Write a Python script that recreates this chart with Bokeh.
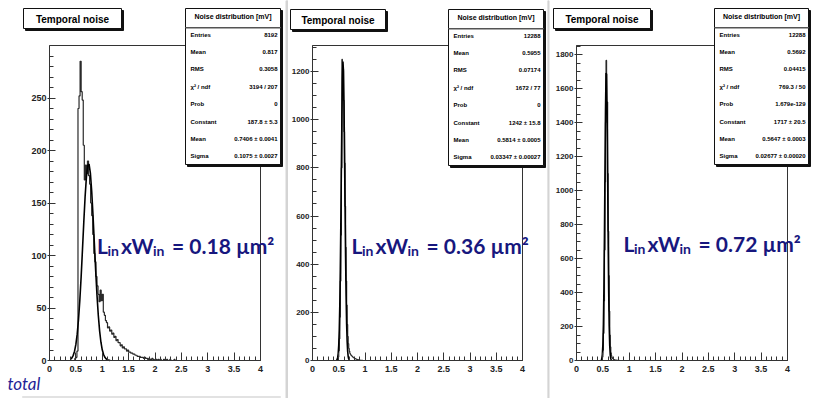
import numpy as np
from bokeh.plotting import figure
from bokeh.models import Range1d, FixedTicker, Label, BoxAnnotation
from bokeh.layouts import row
from bokeh.embed import file_html
from bokeh.resources import INLINE

# ---------------- data ----------------
x_ticks = [0, 0.5, 1, 1.5, 2, 2.5, 3, 3.5, 4]
x_tick_labels = ["0", "0.5", "1", "1.5", "2", "2.5", "3", "3.5", "4"]

panel_title = "Temporal noise"
stats_title = "Noise distribution [mV]"
stats_names = ["Entries", "Mean", "RMS", "\u03c7\u00b2 / ndf", "Prob", "Constant", "Mean", "Sigma"]
stats_values_1 = ["8192", "0.817", "0.3058", "3194 / 207", "0", "187.8 \u00b1 5.3", "0.7406 \u00b1 0.0041", "0.1075 \u00b1 0.0027"]
stats_values_2 = ["12288", "0.5955", "0.07174", "1672 / 77", "0", "1242 \u00b1 15.8", "0.5814 \u00b1 0.0005", "0.03347 \u00b1 0.00027"]
stats_values_3 = ["12288", "0.5692", "0.04415", "769.3 / 50", "1.679e-129", "1717 \u00b1 20.5", "0.5647 \u00b1 0.0003", "0.02677 \u00b1 0.00020"]
area_values = ["0.18", "0.36", "0.72"]

# panel 1 histogram (bin start, bin width, counts)
h1_start, h1_width = 0.48, 0.02
h1_counts = [2, 3, 9, 240, 252, 285, 256, 248, 205, 172, 186, 178, 190, 176, 168, 150,
             138, 120, 102, 94, 80, 71, 63, 56, 67, 57, 63, 46, 43, 38, 36, 31, 32, 28,
             29, 25, 26, 22, 23, 19, 20, 17, 17, 14, 15, 12, 13, 11, 11, 9, 10, 8, 8, 7,
             7, 6, 6, 5, 5, 4, 4, 4, 3, 3, 3, 2, 3, 2, 2, 1, 2, 1, 1, 2, 1, 0, 1, 1, 0,
             1, 0, 1, 0, 0, 1, 0, 0, 1, 0, 0, 1, 0, 0, 0, 1]
fit1_x = [0.400, 0.425, 0.450, 0.475, 0.500, 0.525, 0.550, 0.575, 0.600, 0.625, 0.650,
          0.675, 0.700, 0.725, 0.750, 0.775, 0.800, 0.825, 0.850, 0.875, 0.900, 0.925,
          0.950, 0.975, 1.000, 1.025, 1.050, 1.075, 1.100, 1.125, 1.150]
fit1_y = [1.2, 2.5, 4.9, 8.9, 15.3, 25.1, 39.0, 57.4, 79.8, 105.4, 131.7, 155.9, 174.9,
          185.8, 187.1, 178.4, 161.2, 138.0, 111.9, 86.0, 62.5, 43.1, 28.2, 17.4, 10.2,
          5.7, 3.0, 1.5, 0.7, 0.3, 0.1]
y1_max = 300
y1_ticks = [0, 50, 100, 150, 200, 250]
y1_minor = 10

# panel 2
h2_start, h2_width = 0.46, 0.01
h2_counts = [0, 2, 5, 15, 40, 90, 180, 330, 520, 800, 1250, 1170, 1210, 1080, 950, 820,
             640, 470, 330, 230, 150, 100, 70, 50, 38, 30, 26, 22, 20, 18, 15, 14, 12, 10,
             9, 8, 7, 6, 5, 4, 4, 3, 3, 2, 2, 1, 1, 1, 0, 1]
fit2_x = [0.46, 0.47, 0.48, 0.49, 0.50, 0.51, 0.52, 0.53, 0.54, 0.55, 0.56, 0.57, 0.58,
          0.59, 0.60, 0.61, 0.62, 0.63, 0.64, 0.65, 0.66, 0.67, 0.68, 0.69, 0.70]
fit2_y = [1.7, 4.9, 12.6, 29.8, 64.5, 127.7, 230.8, 381.9, 577.9, 799.9, 1012.5, 1172,
          1241, 1201.6, 1064, 861.8, 638.8, 432.7, 268.2, 151.9, 78.8, 37.4, 16.2, 6.4, 2.3]
y2_max = 1308
y2_ticks = [0, 200, 400, 600, 800, 1000, 1200]
y2_minor = 50

# panel 3
h3_start, h3_width = 0.47, 0.01
h3_counts = [0, 5, 20, 60, 160, 350, 650, 1050, 1400, 1765, 1450, 1520, 1100, 760, 500,
             290, 150, 80, 45, 28, 18, 12, 9, 7, 5, 4, 3, 2, 2, 1, 1, 1, 0, 1]
fit3_x = [0.47, 0.48, 0.49, 0.50, 0.51, 0.52, 0.53, 0.54, 0.55, 0.56, 0.57, 0.58, 0.59,
          0.60, 0.61, 0.62, 0.63, 0.64, 0.65, 0.66]
fit3_y = [3.3, 11.5, 35.0, 92.5, 212.9, 425.9, 741.3, 1121.7, 1476.6, 1690.8, 1683.7,
          1458.2, 1098.7, 719.7, 410.2, 203.2, 87.6, 32.8, 10.7, 3.0]
y3_max = 1853
y3_ticks = [0, 200, 400, 600, 800, 1000, 1200, 1400, 1600, 1800]
y3_minor = 50

# ---------------- layout (page pixels) ----------------
FIG_H = 398
FRAME_TOP, FRAME_BOT = 45, 360
layouts = [
    dict(fig_left=0, fig_w=288, fl=49, fr=260, title_box=(23, 121, 8, 28),
         stats_box=(185, 280, 8, 164), lab_x=190, val_x=277, text_x=96.5, text_base=245,
         ylab_size="9px"),
    dict(fig_left=288, fig_w=259, fl=312, fr=522, title_box=(290, 385, 9, 29),
         stats_box=(448, 543, 9, 165), lab_x=453, val_x=540, text_x=351, text_base=245,
         ylab_size="8px"),
    dict(fig_left=547, fig_w=273, fl=576, fr=787, title_box=(553, 650, 8, 28),
         stats_box=(714, 808, 8, 164), lab_x=719, val_x=805, text_x=623, text_base=243,
         ylab_size="8px"),
]

NAVY = "#17177e"
SANS = "Liberation Sans"
OVER = "Lato"


def make_panel(L, counts, start, width, fx, fy, ymax, yticks, yminor, svals, area, extra=None):
    fl, fr = L["fl"], L["fr"]

    def X(px):
        return (px - fl) / (fr - fl) * 4

    def Y(py):
        return (FRAME_BOT - py) / (FRAME_BOT - FRAME_TOP) * ymax

    p = figure(width=L["fig_w"], height=FIG_H, title=None,
               x_range=Range1d(X(L["fig_left"]), X(L["fig_left"] + L["fig_w"])),
               y_range=Range1d(Y(FIG_H), Y(0)),
               output_backend="svg", toolbar_location=None, min_border=0)
    p.background_fill_color = "white"
    p.border_fill_color = "white"
    p.outline_line_color = None
    p.xgrid.visible = False
    p.ygrid.visible = False

    p.xaxis.fixed_location = 0
    p.xaxis.bounds = (0, 4)
    p.xaxis.ticker = FixedTicker(ticks=x_ticks, minor_ticks=list(np.round(np.arange(0, 4.001, 0.1), 3)))
    p.xaxis.major_label_overrides = dict(zip(x_ticks, x_tick_labels))
    p.xaxis.major_tick_in = 8
    p.xaxis.major_tick_out = 0
    p.xaxis.minor_tick_in = 4
    p.xaxis.minor_tick_out = 0
    p.xaxis.major_label_standoff = 5
    p.yaxis.fixed_location = 0
    p.yaxis.bounds = (0, ymax)
    p.yaxis.ticker = FixedTicker(ticks=yticks, minor_ticks=list(np.arange(0, ymax, yminor)))
    p.yaxis.major_tick_in = 6
    p.yaxis.major_tick_out = 2
    p.yaxis.minor_tick_in = 4
    p.yaxis.minor_tick_out = 0
    p.yaxis.major_label_standoff = 1
    for ax, size in ((p.xaxis, "9px"), (p.yaxis, L["ylab_size"])):
        ax.axis_line_color = "#333333"
        ax.major_tick_line_color = "#333333"
        ax.minor_tick_line_color = "#333333"
        ax.major_label_text_font = SANS
        ax.major_label_text_font_style = "bold"
        ax.major_label_text_font_size = size
        ax.major_label_text_color = "#222222"

    # histogram outline and gaussian fit
    edges = start + width * np.arange(len(counts) + 1)
    xs = np.concatenate([[edges[0]], edges])
    ys = np.concatenate([[0], counts, [0]])
    p.step(xs, ys, mode="after", line_color="#2a2a2a", line_width=1.2)
    p.line(fx, fy, line_color="black", line_width=1.6)

    # ROOT frame (data range 0..4 x 0..ymax)
    p.add_layout(BoxAnnotation(left=0, right=4, bottom=0, top=ymax, fill_alpha=0,
                               line_color="#333333", line_alpha=1, line_width=1))

    def box(l, r, t, b, fill, line=None):
        p.add_layout(BoxAnnotation(left=X(l), right=X(r), top=Y(t), bottom=Y(b),
                                   fill_color=fill, fill_alpha=1,
                                   line_color=line if line else fill, line_alpha=1,
                                   line_width=1))

    def text(px, py, s, size, style="bold", align="left", baseline="middle", font=SANS, color="black"):
        p.add_layout(Label(x=X(px), y=Y(py), text=s, text_font=font, text_font_size=size,
                           text_font_style=style, text_align=align, text_baseline=baseline,
                           text_color=color))

    # title box
    l, r, t, b = L["title_box"]
    box(l + 2, r + 2, t + 2, b + 2, "#111111")
    box(l, r, t, b, "white", "#111111")
    text((l + r) / 2, (t + b) / 2 + 0.5, panel_title, "10px", align="center")

    # stats box
    l, r, t, b = L["stats_box"]
    box(l + 2, r + 2, t + 2, b + 2, "#111111")
    box(l, r, t, b, "white", "#111111")
    box(l, r, t + 19, t + 19.5, "#555555")
    text((l + r) / 2, t + 8, stats_title, "7px", align="center")
    for k, (nm, vv) in enumerate(zip(stats_names, svals)):
        yy = t + 26 + 17.4 * k
        text(L["lab_x"], yy, nm, "6px")
        text(L["val_x"], yy, vv, "6px", align="right")

    # overlay annotation  L_in x W_in = ... µm²
    tx, tb = L["text_x"], L["text_base"]
    text(tx, tb, "L", "21px", baseline="alphabetic", font=OVER, color=NAVY)
    text(tx + 10.5, tb + 4.5, "in", "14px", baseline="alphabetic", font=OVER, color=NAVY)
    text(tx + 24, tb, "xW", "21px", baseline="alphabetic", font=OVER, color=NAVY)
    text(tx + 56, tb + 4.5, "in", "14px", baseline="alphabetic", font=OVER, color=NAVY)
    text(tx + 75, tb, "= " + area + " \u00b5m\u00b2", "21px", baseline="alphabetic", font=OVER, color=NAVY)

    if extra:
        extra(p, X, Y, box, text)
    return p


def extra1(p, X, Y, box, text):
    # remnant of the slide text below the first panel, and separator to next panel
    text(7, 383, "total", "17px", style="italic", baseline="alphabetic", font=OVER, color="#1f1f96")
    box(285.5, 287.5, 0, 398, "#d4d4d4")
    box(22, 280, 396, 397, "#e2e2e2")


def extra3(p, X, Y, box, text):
    box(547, 548.5, 0, 398, "#d4d4d4")


p1 = make_panel(layouts[0], h1_counts, h1_start, h1_width, fit1_x, fit1_y, y1_max, y1_ticks, y1_minor,
                stats_values_1, area_values[0], extra1)
p2 = make_panel(layouts[1], h2_counts, h2_start, h2_width, fit2_x, fit2_y, y2_max, y2_ticks, y2_minor,
                stats_values_2, area_values[1])
p3 = make_panel(layouts[2], h3_counts, h3_start, h3_width, fit3_x, fit3_y, y3_max, y3_ticks, y3_minor,
                stats_values_3, area_values[2], extra3)

layout = row(p1, p2, p3)
open("out.html", "w").write(file_html(layout, INLINE, title="Temporal noise"))
